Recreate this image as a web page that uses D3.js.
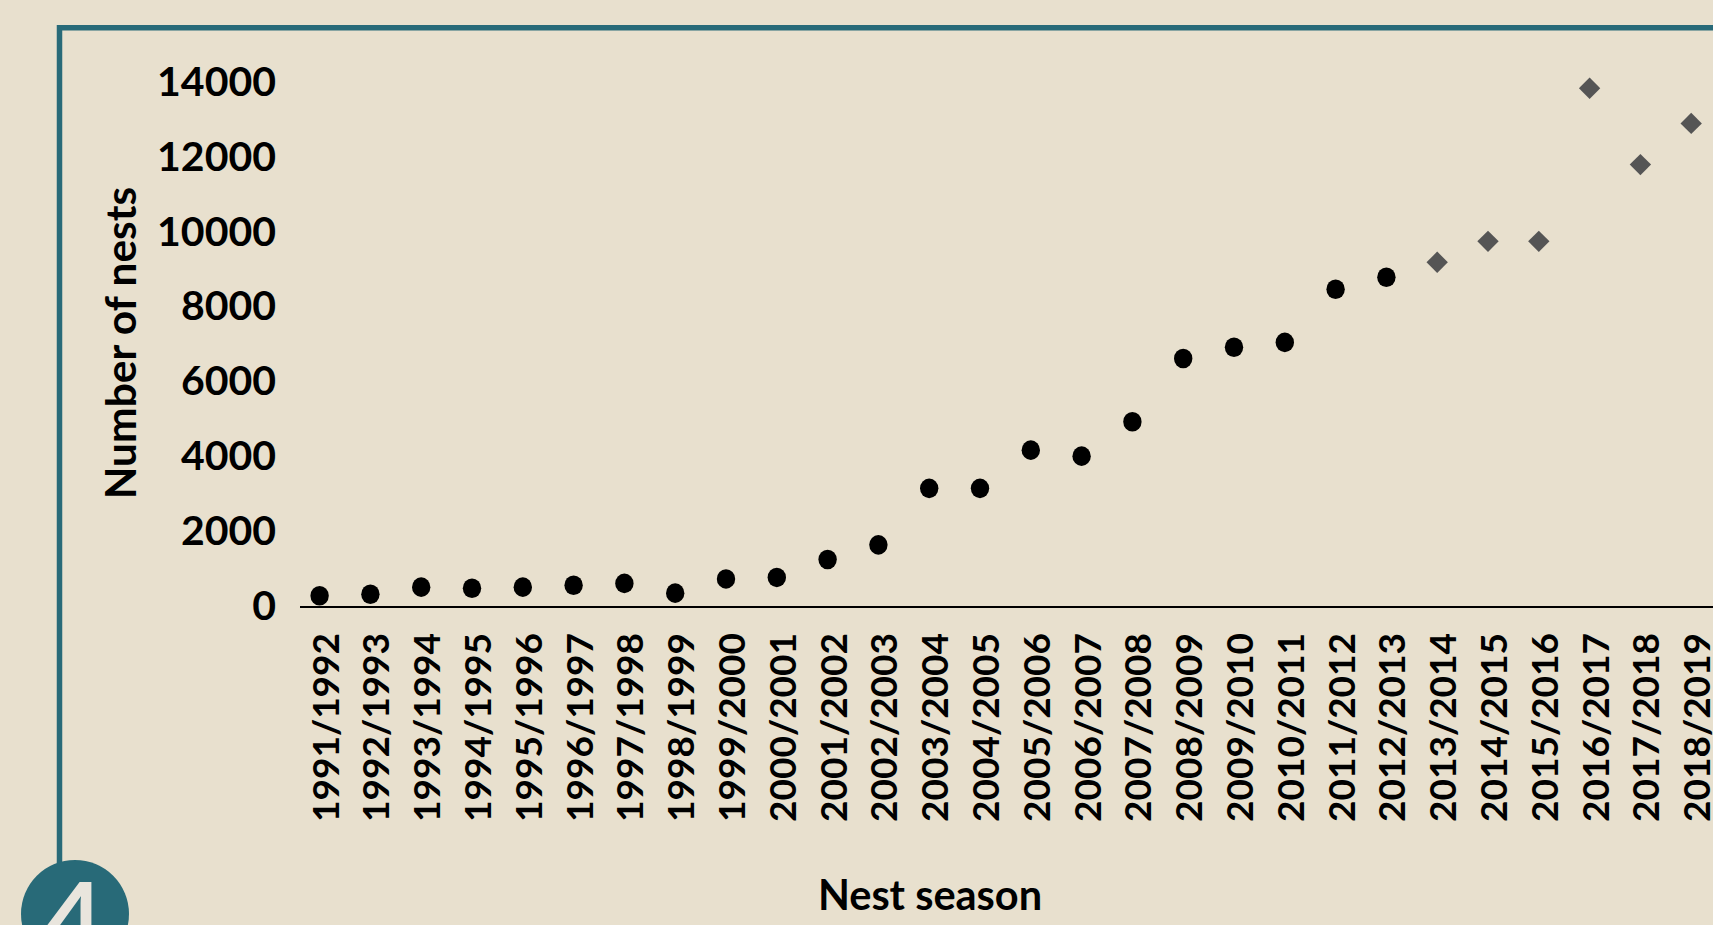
<!DOCTYPE html>
<html>
<head>
<meta charset="utf-8">
<script src="https://cdn.jsdelivr.net/npm/d3@7"></script>
<style>
  html, body { margin: 0; padding: 0; background: #e8e0ce; overflow: hidden; }
  svg { display: block; font-family: Lato, "Open Sans", sans-serif; }
</style>
</head>
<body>
<svg id="chart" width="1713" height="925"></svg>
<script>
// nest seasons on the x axis
const seasons = [
  "1991/1992", "1992/1993", "1993/1994", "1994/1995", "1995/1996", "1996/1997",
  "1997/1998", "1998/1999", "1999/2000", "2000/2001", "2001/2002", "2002/2003",
  "2003/2004", "2004/2005", "2005/2006", "2006/2007", "2007/2008", "2008/2009",
  "2009/2010", "2010/2011", "2011/2012", "2012/2013", "2013/2014", "2014/2015",
  "2015/2016", "2016/2017", "2017/2018", "2018/2019"
];

// nest counts, black dots (1991/1992 - 2012/2013)
const dotNests = [
  300, 340, 530, 500, 530, 580, 630, 370, 750, 790, 1270,
  1660, 3170, 3170, 4190, 4030, 4950, 6640, 6940, 7070, 8490, 8810
];

// nest counts, grey diamonds (2013/2014 - 2018/2019)
const diamondNests = [9210, 9770, 9770, 13860, 11820, 12920];

const yTicks = [0, 2000, 4000, 6000, 8000, 10000, 12000, 14000];

const teal = "#286a78";
const W = 1713, H = 925;

const svg = d3.select("#chart");

// paper background
svg.append("rect")
  .attr("width", W).attr("height", H)
  .attr("fill", "#e8e0ce");

// scales
const x = d3.scalePoint().domain(seasons).range([319.6, 1691.2]);
const y = d3.scaleLinear().domain([0, 14000]).range([607, 83]);

// teal frame (top + left edge)
svg.append("path")
  .attr("d", "M59.5," + H + " V27.8 H" + W)
  .attr("fill", "none")
  .attr("stroke", teal)
  .attr("stroke-width", 5.5);

// badge with panel number
svg.append("circle")
  .attr("cx", 75).attr("cy", 914).attr("r", 54)
  .attr("fill", teal);
svg.append("text")
  .attr("x", 74).attr("y", 954)
  .attr("text-anchor", "middle")
  .style("font-size", "100px")
  .style("font-weight", 700)
  .style("fill", "#e9e5dd")
  .text("4");

// y axis (labels only)
const yAxis = svg.append("g")
  .attr("transform", "translate(300,0)")
  .call(d3.axisLeft(y).tickValues(yTicks).tickSize(0).tickPadding(24).tickFormat(d3.format("d")));
yAxis.select(".domain").remove();
yAxis.selectAll("text")
  .attr("dy", "0.3em")
  .style("font-family", "Lato, sans-serif")
  .style("font-size", "41px")
  .style("font-weight", 700)
  .style("fill", "#000");

// x axis with rotated season labels
const xAxis = svg.append("g")
  .attr("transform", "translate(0," + y(0) + ")")
  .call(d3.axisBottom(x).tickSize(0));
xAxis.select(".domain")
  .attr("d", "M300,0H" + W)
  .attr("stroke", "#000")
  .attr("stroke-width", 2.2);
xAxis.selectAll("text")
  .attr("transform", "rotate(-90)")
  .attr("x", -26)
  .attr("y", 0)
  .attr("dy", "0.5em")
  .style("text-anchor", "end")
  .style("font-family", "Lato, sans-serif")
  .style("font-size", "37px")
  .style("font-weight", 700)
  .style("fill", "#000");

// axis titles
svg.append("text")
  .attr("transform", "translate(136,343) rotate(-90)")
  .attr("text-anchor", "middle")
  .style("font-size", "42.5px")
  .style("font-weight", 700)
  .text("Number of nests");

svg.append("text")
  .attr("x", 930).attr("y", 910)
  .attr("text-anchor", "middle")
  .style("font-size", "41.5px")
  .style("font-weight", 700)
  .text("Nest season");

// black dots
svg.append("g")
  .selectAll("ellipse")
  .data(dotNests)
  .join("ellipse")
  .attr("cx", (d, i) => x(seasons[i]))
  .attr("cy", d => y(d))
  .attr("rx", 9.2)
  .attr("ry", 9.8)
  .attr("fill", "#000");

// grey diamonds
const diamond = d3.symbol(d3.symbolSquare, 228);
const offset = dotNests.length;
svg.append("g")
  .selectAll("path")
  .data(diamondNests)
  .join("path")
  .attr("d", diamond)
  .attr("transform", (d, i) => "translate(" + x(seasons[offset + i]) + "," + y(d) + ") rotate(45)")
  .attr("fill", "#555555");
</script>
</body>
</html>
